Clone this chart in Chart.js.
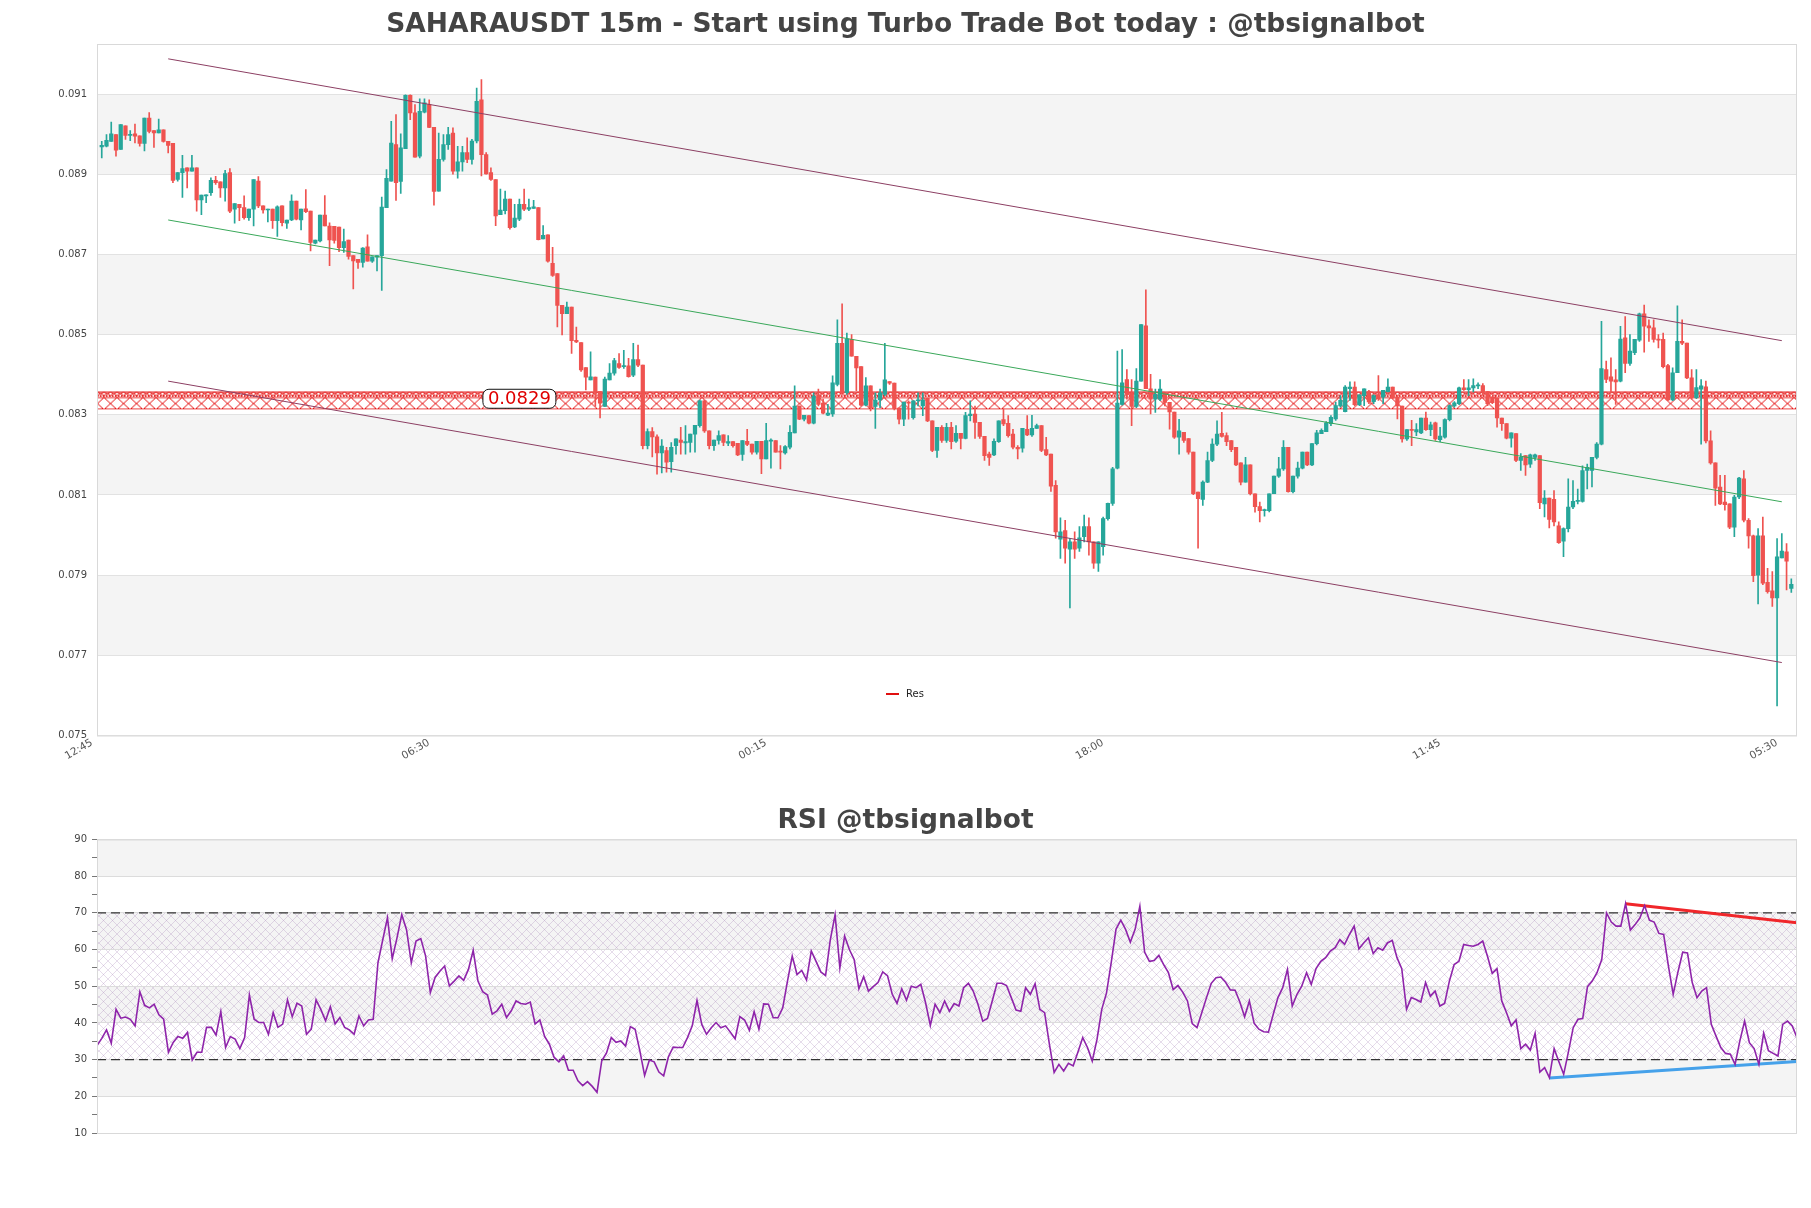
<!DOCTYPE html>
<html>
<head>
<meta charset="utf-8">
<script src="https://cdn.jsdelivr.net/npm/chart.js@4.4.1/dist/chart.umd.min.js"></script>
<style>
html, body { margin: 0; padding: 0; background: #fff; }
#wrap { position: relative; width: 1811px; height: 1208px; overflow: hidden; }
#main { position: absolute; left: 0; top: 0; }
#rsi { position: absolute; left: 0; top: 790px; }
</style>
</head>
<body>
<div id="wrap">
  <canvas id="main" width="1811" height="775"></canvas>
  <canvas id="rsi" width="1811" height="418"></canvas>
</div>
<script>
// x axis: one step per 15m candle, index 0 = 12:45
var tickLabels = ['12:45', '06:30', '00:15', '18:00', '11:45', '05:30'];
var tickIdx = [0, 71, 142, 213, 284, 355];
var priceTicks = [0.075, 0.077, 0.079, 0.081, 0.083, 0.085, 0.087, 0.089, 0.091];

var openP = [
0.08968,0.08970,0.08982,0.08999,0.08962,0.09021,0.08997,0.09001,0.08996,0.08977,
0.09040,0.09009,0.09003,0.09011,0.08982,0.08977,0.08887,0.08904,0.08916,0.08908,
0.08916,0.08836,0.08846,0.08854,0.08885,0.08881,0.08866,0.08904,0.08813,0.08825,
0.08817,0.08792,0.08813,0.08883,0.08821,0.08811,0.08813,0.08784,0.08821,0.08778,
0.08786,0.08833,0.08786,0.08814,0.08808,0.08728,0.08734,0.08798,0.08771,0.08770,
0.08768,0.08717,0.08736,0.08697,0.08688,0.08680,0.08719,0.08683,0.08693,0.08697,
0.08817,0.08883,0.08974,0.08882,0.08964,0.09097,0.09053,0.08945,0.09055,0.09074,
0.09017,0.08858,0.08937,0.08974,0.09003,0.08908,0.08931,0.08954,0.08937,0.08983,
0.09086,0.08949,0.08904,0.08887,0.08799,0.08809,0.08838,0.08769,0.08788,0.08825,
0.08813,0.08815,0.08817,0.08739,0.08749,0.08678,0.08652,0.08573,0.08552,0.08569,
0.08486,0.08480,0.08418,0.08387,0.08394,0.08358,0.08321,0.08387,0.08404,0.08428,
0.08420,0.08422,0.08399,0.08438,0.08424,0.08223,0.08258,0.08245,0.08205,0.08211,
0.08183,0.08223,0.08237,0.08230,0.08231,0.08252,0.08273,0.08335,0.08260,0.08223,
0.08236,0.08250,0.08229,0.08233,0.08229,0.08201,0.08234,0.08227,0.08207,0.08234,
0.08190,0.08234,0.08236,0.08208,0.08205,0.08219,0.08255,0.08322,0.08289,0.08298,
0.08279,0.08349,0.08329,0.08299,0.08302,0.08376,0.08478,0.08355,0.08488,0.08446,
0.08420,0.08324,0.08372,0.08321,0.08337,0.08351,0.08383,0.08379,0.08317,0.08289,
0.08332,0.08293,0.08335,0.08322,0.08341,0.08285,0.08211,0.08269,0.08236,0.08269,
0.08234,0.08254,0.08241,0.08298,0.08302,0.08281,0.08246,0.08202,0.08200,0.08233,
0.08288,0.08279,0.08252,0.08219,0.08217,0.08264,0.08250,0.08266,0.08273,0.08213,
0.08202,0.08124,0.07990,0.08011,0.07965,0.07983,0.07967,0.07996,0.08021,0.07983,
0.07930,0.07971,0.08041,0.08079,0.08167,0.08326,0.08388,0.08355,0.08321,0.08384,
0.08522,0.08365,0.08339,0.08339,0.08355,0.08331,0.08307,0.08244,0.08256,0.08241,
0.08207,0.08107,0.08089,0.08132,0.08186,0.08227,0.08254,0.08248,0.08236,0.08219,
0.08180,0.08132,0.08175,0.08103,0.08071,0.08061,0.08061,0.08103,0.08147,0.08165,
0.08219,0.08108,0.08147,0.08167,0.08207,0.08175,0.08228,0.08253,0.08258,0.08278,
0.08290,0.08322,0.08308,0.08365,0.08369,0.08325,0.08348,0.08358,0.08333,0.08350,
0.08344,0.08358,0.08369,0.08344,0.08322,0.08240,0.08263,0.08257,0.08255,0.08292,
0.08263,0.08280,0.08238,0.08244,0.08288,0.08322,0.08328,0.08367,0.08363,0.08367,
0.08372,0.08373,0.08358,0.08344,0.08342,0.08292,0.08278,0.08242,0.08253,0.08186,
0.08198,0.08177,0.08194,0.08198,0.08078,0.08092,0.08089,0.08023,0.07985,0.08016,
0.08070,0.08084,0.08084,0.08161,0.08161,0.08194,0.08227,0.08413,0.08395,0.08387,
0.08384,0.08492,0.08428,0.08455,0.08486,0.08552,0.08522,0.08517,0.08489,0.08488,
0.08423,0.08337,0.08405,0.08483,0.08479,0.08392,0.08343,0.08364,0.08370,0.08235,
0.08180,0.08120,0.08082,0.08078,0.08020,0.08095,0.08140,0.08037,0.07998,0.07900,
0.07998,0.07882,0.07861,0.07843,0.07943,0.07958,0.07867
];
var highP = [
0.08982,0.08999,0.09030,0.08999,0.09024,0.09021,0.09009,0.09025,0.08996,0.09040,
0.09054,0.09009,0.09038,0.09011,0.08982,0.08977,0.08904,0.08947,0.08916,0.08947,
0.08916,0.08848,0.08849,0.08891,0.08895,0.08881,0.08910,0.08914,0.08827,0.08825,
0.08846,0.08813,0.08887,0.08894,0.08821,0.08813,0.08813,0.08821,0.08821,0.08786,
0.08849,0.08833,0.08813,0.08862,0.08808,0.08736,0.08798,0.08847,0.08779,0.08770,
0.08768,0.08763,0.08736,0.08697,0.08688,0.08717,0.08749,0.08694,0.08697,0.08843,
0.08912,0.09032,0.09049,0.09001,0.09098,0.09098,0.09074,0.09088,0.09088,0.09086,
0.09017,0.09003,0.08999,0.09017,0.09016,0.08970,0.08970,0.08991,0.08987,0.09115,
0.09136,0.08954,0.08916,0.08887,0.08863,0.08858,0.08838,0.08825,0.08838,0.08863,
0.08838,0.08835,0.08817,0.08772,0.08749,0.08718,0.08652,0.08573,0.08581,0.08569,
0.08519,0.08480,0.08418,0.08457,0.08394,0.08358,0.08394,0.08428,0.08441,0.08453,
0.08461,0.08441,0.08478,0.08474,0.08424,0.08265,0.08268,0.08250,0.08238,0.08219,
0.08231,0.08240,0.08269,0.08273,0.08252,0.08274,0.08337,0.08337,0.08260,0.08237,
0.08260,0.08250,0.08248,0.08233,0.08229,0.08236,0.08264,0.08227,0.08234,0.08234,
0.08279,0.08240,0.08236,0.08223,0.08223,0.08273,0.08372,0.08322,0.08299,0.08298,
0.08355,0.08364,0.08339,0.08326,0.08397,0.08537,0.08577,0.08504,0.08500,0.08446,
0.08420,0.08393,0.08372,0.08355,0.08364,0.08478,0.08383,0.08379,0.08317,0.08332,
0.08335,0.08335,0.08355,0.08355,0.08341,0.08285,0.08269,0.08273,0.08279,0.08281,
0.08273,0.08254,0.08306,0.08335,0.08322,0.08281,0.08246,0.08207,0.08240,0.08285,
0.08314,0.08298,0.08264,0.08223,0.08266,0.08298,0.08299,0.08277,0.08273,0.08244,
0.08202,0.08136,0.08043,0.08037,0.07992,0.08008,0.08021,0.08050,0.08043,0.07983,
0.07983,0.08045,0.08080,0.08169,0.08459,0.08463,0.08413,0.08388,0.08415,0.08525,
0.08612,0.08401,0.08364,0.08388,0.08355,0.08331,0.08307,0.08289,0.08256,0.08241,
0.08207,0.08107,0.08135,0.08207,0.08240,0.08285,0.08306,0.08255,0.08236,0.08219,
0.08180,0.08194,0.08175,0.08103,0.08082,0.08065,0.08103,0.08147,0.08194,0.08236,
0.08219,0.08147,0.08182,0.08207,0.08207,0.08228,0.08261,0.08265,0.08283,0.08298,
0.08332,0.08348,0.08373,0.08382,0.08382,0.08350,0.08365,0.08361,0.08350,0.08398,
0.08361,0.08390,0.08369,0.08344,0.08322,0.08263,0.08286,0.08278,0.08292,0.08307,
0.08282,0.08282,0.08269,0.08290,0.08325,0.08333,0.08369,0.08388,0.08388,0.08390,
0.08380,0.08378,0.08358,0.08344,0.08342,0.08292,0.08278,0.08255,0.08253,0.08203,
0.08198,0.08202,0.08202,0.08198,0.08111,0.08092,0.08111,0.08033,0.08018,0.08140,
0.08136,0.08115,0.08173,0.08177,0.08194,0.08231,0.08533,0.08434,0.08442,0.08413,
0.08521,0.08545,0.08500,0.08488,0.08554,0.08574,0.08537,0.08537,0.08500,0.08504,
0.08426,0.08417,0.08572,0.08537,0.08479,0.08413,0.08413,0.08388,0.08384,0.08260,
0.08180,0.08149,0.08149,0.08078,0.08099,0.08144,0.08161,0.08041,0.08000,0.08016,
0.08045,0.07917,0.07909,0.07991,0.08004,0.07979,0.07891
];
var lowP = [
0.08941,0.08968,0.08982,0.08945,0.08962,0.08987,0.08984,0.08978,0.08970,0.08958,
0.09003,0.08967,0.09003,0.08980,0.08953,0.08879,0.08883,0.08842,0.08866,0.08908,
0.08808,0.08799,0.08829,0.08847,0.08875,0.08842,0.08833,0.08804,0.08778,0.08784,
0.08788,0.08785,0.08771,0.08817,0.08803,0.08781,0.08765,0.08745,0.08771,0.08765,
0.08784,0.08786,0.08761,0.08804,0.08709,0.08726,0.08731,0.08771,0.08672,0.08728,
0.08707,0.08705,0.08688,0.08614,0.08665,0.08668,0.08683,0.08680,0.08659,0.08610,
0.08817,0.08883,0.08835,0.08852,0.08964,0.09036,0.08943,0.08941,0.09053,0.09016,
0.08823,0.08858,0.08933,0.08962,0.08900,0.08890,0.08908,0.08929,0.08925,0.08978,
0.08896,0.08900,0.08885,0.08772,0.08799,0.08801,0.08763,0.08767,0.08784,0.08809,
0.08809,0.08815,0.08736,0.08739,0.08681,0.08645,0.08519,0.08499,0.08552,0.08453,
0.08480,0.08408,0.08362,0.08387,0.08321,0.08292,0.08321,0.08387,0.08399,0.08416,
0.08416,0.08394,0.08395,0.08420,0.08215,0.08215,0.08195,0.08152,0.08155,0.08157,
0.08157,0.08202,0.08202,0.08202,0.08207,0.08207,0.08269,0.08256,0.08215,0.08211,
0.08227,0.08223,0.08223,0.08219,0.08198,0.08186,0.08223,0.08202,0.08202,0.08153,
0.08190,0.08167,0.08207,0.08165,0.08202,0.08215,0.08255,0.08288,0.08285,0.08277,
0.08277,0.08322,0.08302,0.08298,0.08296,0.08372,0.08355,0.08351,0.08446,0.08360,
0.08322,0.08322,0.08310,0.08266,0.08318,0.08347,0.08376,0.08312,0.08277,0.08273,
0.08289,0.08289,0.08322,0.08298,0.08283,0.08208,0.08194,0.08231,0.08231,0.08215,
0.08231,0.08215,0.08240,0.08285,0.08241,0.08241,0.08186,0.08174,0.08198,0.08231,
0.08273,0.08244,0.08215,0.08190,0.08207,0.08248,0.08246,0.08266,0.08208,0.08198,
0.08109,0.07992,0.07942,0.07930,0.07818,0.07942,0.07959,0.07983,0.07950,0.07917,
0.07909,0.07950,0.08037,0.08074,0.08165,0.08324,0.08339,0.08273,0.08318,0.08384,
0.08365,0.08302,0.08306,0.08335,0.08322,0.08264,0.08241,0.08202,0.08231,0.08202,
0.08101,0.07967,0.08074,0.08131,0.08183,0.08223,0.08244,0.08223,0.08208,0.08173,
0.08125,0.08132,0.08100,0.08057,0.08033,0.08047,0.08058,0.08103,0.08144,0.08161,
0.08107,0.08105,0.08142,0.08165,0.08173,0.08173,0.08225,0.08253,0.08258,0.08273,
0.08286,0.08319,0.08307,0.08336,0.08323,0.08323,0.08323,0.08328,0.08328,0.08336,
0.08328,0.08357,0.08340,0.08290,0.08232,0.08236,0.08223,0.08248,0.08253,0.08261,
0.08248,0.08236,0.08233,0.08242,0.08285,0.08319,0.08325,0.08361,0.08348,0.08357,
0.08365,0.08350,0.08323,0.08328,0.08269,0.08261,0.08240,0.08219,0.08183,0.08161,
0.08149,0.08169,0.08186,0.08066,0.08045,0.08018,0.08023,0.07979,0.07946,0.08008,
0.08066,0.08078,0.08082,0.08115,0.08120,0.08190,0.08225,0.08380,0.08355,0.08326,
0.08382,0.08405,0.08423,0.08450,0.08483,0.08456,0.08483,0.08481,0.08467,0.08417,
0.08335,0.08335,0.08405,0.08475,0.08390,0.08339,0.08340,0.08227,0.08230,0.08177,
0.08074,0.08076,0.08062,0.08016,0.07996,0.08091,0.08033,0.07967,0.07884,0.07828,
0.07876,0.07855,0.07822,0.07574,0.07943,0.07863,0.07857
];
var closeP = [
0.08972,0.08985,0.09001,0.08960,0.09024,0.08997,0.08999,0.08995,0.08977,0.09040,
0.09007,0.09003,0.09011,0.08982,0.08972,0.08885,0.08904,0.08914,0.08908,0.08916,
0.08836,0.08848,0.08849,0.08885,0.08879,0.08866,0.08902,0.08808,0.08827,0.08817,
0.08792,0.08813,0.08887,0.08821,0.08811,0.08813,0.08784,0.08819,0.08779,0.08786,
0.08833,0.08788,0.08813,0.08807,0.08730,0.08736,0.08798,0.08771,0.08736,0.08735,
0.08717,0.08732,0.08695,0.08684,0.08680,0.08716,0.08683,0.08694,0.08697,0.08818,
0.08890,0.08978,0.08879,0.08966,0.09097,0.09053,0.08943,0.09057,0.09078,0.09017,
0.08857,0.08937,0.08974,0.08999,0.08908,0.08931,0.08954,0.08937,0.08983,0.09082,
0.08949,0.08901,0.08887,0.08796,0.08811,0.08838,0.08767,0.08791,0.08825,0.08813,
0.08817,0.08819,0.08737,0.08748,0.08683,0.08648,0.08573,0.08552,0.08569,0.08485,
0.08482,0.08412,0.08394,0.08395,0.08358,0.08329,0.08389,0.08404,0.08435,0.08418,
0.08422,0.08395,0.08438,0.08424,0.08223,0.08258,0.08245,0.08205,0.08222,0.08182,
0.08219,0.08240,0.08231,0.08233,0.08252,0.08274,0.08335,0.08260,0.08223,0.08237,
0.08248,0.08231,0.08233,0.08223,0.08200,0.08236,0.08226,0.08207,0.08234,0.08190,
0.08236,0.08237,0.08207,0.08207,0.08221,0.08256,0.08322,0.08289,0.08299,0.08279,
0.08347,0.08326,0.08304,0.08304,0.08380,0.08478,0.08355,0.08489,0.08446,0.08417,
0.08324,0.08372,0.08318,0.08337,0.08355,0.08387,0.08379,0.08316,0.08289,0.08332,
0.08329,0.08335,0.08337,0.08337,0.08285,0.08211,0.08269,0.08236,0.08269,0.08233,
0.08254,0.08241,0.08298,0.08302,0.08281,0.08246,0.08198,0.08194,0.08234,0.08285,
0.08277,0.08248,0.08219,0.08215,0.08266,0.08250,0.08266,0.08273,0.08211,0.08200,
0.08122,0.08008,0.08008,0.07967,0.07983,0.07965,0.07993,0.08021,0.07983,0.07930,
0.07983,0.08041,0.08079,0.08165,0.08329,0.08380,0.08351,0.08321,0.08384,0.08525,
0.08365,0.08339,0.08351,0.08364,0.08331,0.08307,0.08244,0.08260,0.08236,0.08207,
0.08103,0.08091,0.08132,0.08186,0.08227,0.08252,0.08246,0.08233,0.08213,0.08175,
0.08132,0.08175,0.08103,0.08071,0.08061,0.08062,0.08103,0.08147,0.08165,0.08219,
0.08108,0.08147,0.08167,0.08207,0.08175,0.08228,0.08255,0.08261,0.08280,0.08294,
0.08323,0.08336,0.08369,0.08369,0.08325,0.08350,0.08365,0.08332,0.08348,0.08340,
0.08361,0.08369,0.08342,0.08322,0.08240,0.08263,0.08261,0.08263,0.08292,0.08263,
0.08275,0.08240,0.08247,0.08288,0.08323,0.08330,0.08367,0.08363,0.08367,0.08373,
0.08375,0.08357,0.08328,0.08330,0.08292,0.08278,0.08242,0.08255,0.08186,0.08194,
0.08175,0.08200,0.08200,0.08081,0.08092,0.08039,0.08033,0.07981,0.08016,0.08070,
0.08084,0.08086,0.08161,0.08169,0.08194,0.08227,0.08415,0.08388,0.08384,0.08382,
0.08489,0.08428,0.08459,0.08488,0.08552,0.08521,0.08517,0.08488,0.08486,0.08420,
0.08337,0.08405,0.08483,0.08479,0.08392,0.08343,0.08368,0.08372,0.08235,0.08180,
0.08117,0.08078,0.08076,0.08020,0.08095,0.08142,0.08037,0.07998,0.07899,0.07998,
0.07880,0.07859,0.07843,0.07946,0.07960,0.07935,0.07877
];

// trend channel, [candle index, price]
var upperLine = [[15, 0.09188], [355, 0.08485]];
var midLine = [[15, 0.08786], [355, 0.08083]];
var lowerLine = [[15, 0.08384], [355, 0.07682]];
var resZone = [0.08312, 0.08358];
var resText = '0.0829';
var resTextAt = [89, 0.0834];

var rsiTicks = [10, 15, 20, 25, 30, 35, 40, 45, 50, 55, 60, 65, 70, 75, 80, 85, 90];
var rsiValues = [
33.8,35.8,38.1,34.5,43.7,41.3,41.6,41.0,39.2,48.5,
44.8,44.1,45.1,42.2,41.0,32.0,34.7,36.3,35.8,37.4,
29.9,32.0,32.0,38.8,38.8,36.7,43.1,33.3,36.3,35.6,
33.0,36.0,47.6,41.0,40.1,40.1,36.9,42.8,38.8,39.7,
46.3,41.7,45.4,44.6,36.9,38.3,46.3,43.7,40.6,44.4,
39.7,41.5,38.8,38.1,36.9,41.9,39.2,40.8,41.0,56.4,
62.6,68.7,57.5,63.2,69.5,65.4,56.4,62.3,63.0,58.3,
48.3,52.4,54.1,55.5,50.1,51.4,52.8,51.6,54.6,59.8,
51.4,48.5,47.6,42.4,43.3,45.1,41.5,43.3,46.0,45.3,
45.1,45.7,39.7,40.8,36.3,34.2,30.6,29.4,31.0,27.1,
27.1,24.2,22.9,24.0,22.7,21.1,29.7,31.8,36.0,34.7,35.1,
33.7,39.0,38.3,32.4,25.7,29.9,29.4,26.6,25.6,30.8,
33.4,33.3,33.3,36.0,39.2,46.1,39.6,36.9,38.7,40.1,
38.7,39.2,37.5,35.7,41.7,40.8,38.0,43.1,38.3,45.2,
45.1,41.4,41.4,44.1,51.4,58.2,53.2,54.3,51.7,59.6,
56.8,53.9,52.9,62.7,69.5,55.0,63.7,60.0,57.3,49.3,
52.6,48.7,49.9,51.0,53.9,52.9,47.8,45.3,49.3,46.2,
50.0,49.6,50.5,45.5,39.3,45.1,42.8,46.0,43.2,45.3,
44.6,49.6,50.8,48.7,45.1,40.5,41.2,46.0,50.8,50.8,
50.2,46.9,43.5,43.2,49.6,47.8,50.7,43.7,42.8,34.2,
26.5,28.7,26.9,29.0,28.3,32.1,36.0,33.3,29.6,35.5,
43.7,48.2,56.6,65.6,68.0,65.5,62.0,65.5,71.8,59.3,
56.8,57.0,58.4,55.9,53.7,49.1,50.2,48.4,46.0,39.8,
38.7,42.8,46.9,50.8,52.3,52.5,
51.1,49.0,48.9,45.7,41.7,46.0,39.9,38.3,37.6,37.5,
42.3,46.9,49.6,54.6,44.6,47.8,50.0,53.7,50.5,54.8,
56.8,57.8,59.6,60.5,62.7,61.4,64.1,66.4,60.2,61.8,
63.2,58.9,60.5,59.8,61.8,62.5,57.8,54.8,43.7,46.9,
46.4,45.7,51.0,47.3,48.7,44.6,45.3,51.4,55.9,56.8,
61.4,61.1,60.9,61.4,62.3,58.2,53.5,54.8,46.0,42.8,
39.2,40.8,33.0,34.2,32.6,37.2,26.6,27.8,25.1,33.0,
29.4,26.0,32.1,38.7,41.0,41.2,49.9,51.4,53.7,57.3,
70.0,67.5,66.4,66.4,72.5,65.3,66.8,68.6,72.0,68.0,
67.5,64.4,64.1,55.5,47.8,53.9,59.3,59.1,51.0,46.9,
48.7,49.6,39.6,36.4,33.3,31.7,31.5,28.7,35.1,40.5,
34.6,33.0,28.7,37.2,32.4,31.7,31.0,39.6,40.5,39.2,36.0
];
var rsiBear = [[321, 72.5], [357, 67.3]];
var rsiBull = [[305, 25.0], [357, 29.5]];

var UP = '#26a69a', DOWN = '#ef5350';
Chart.defaults.font.family = "'DejaVu Sans', sans-serif";
Chart.defaults.color = '#444';

function pts(a) {
  return a.map(function(p) { return {x: p[0], y: p[1]}; });
}

var bodies = [], wicks = [], colors = [];
for (var i = 0; i < openP.length; i++) {
  bodies.push({x: i + 1, y: [openP[i], closeP[i]]});
  wicks.push({x: i + 1, y: [lowP[i], highP[i]]});
  colors.push(closeP[i] >= openP[i] ? UP : DOWN);
}

// empty right axis: keeps the plot 14px from the edge while the title stays centred on the page
var rightGap = {
  position: 'right',
  grid: {display: false, drawTicks: false},
  border: {display: false},
  ticks: {display: false},
  afterFit: function(s) { s.width = 14; }
};

// alternating grey bands behind the grid
var bandsPlugin = {
  id: 'bands',
  beforeDraw: function(chart, args, opts) {
    var ctx = chart.ctx, a = chart.chartArea, y = chart.scales.y;
    ctx.save();
    ctx.fillStyle = '#f4f4f4';
    opts.list.forEach(function(b) {
      var t = y.getPixelForValue(b[1]), btm = y.getPixelForValue(b[0]);
      ctx.fillRect(a.left, t, a.right - a.left, btm - t);
    });
    if (opts.hatch) {
      var c = document.createElement('canvas');
      c.width = 9; c.height = 9;
      var g = c.getContext('2d');
      g.strokeStyle = 'rgba(150,110,170,0.3)';
      g.lineWidth = 0.8;
      g.beginPath();
      g.moveTo(0, 0); g.lineTo(9, 9);
      g.moveTo(9, 0); g.lineTo(0, 9);
      g.stroke();
      ctx.fillStyle = ctx.createPattern(c, 'repeat');
      var t2 = y.getPixelForValue(opts.hatch[1]), b2 = y.getPixelForValue(opts.hatch[0]);
      ctx.fillRect(a.left, t2, a.right - a.left, b2 - t2);
    }
    ctx.restore();
  },
  afterDraw: function(chart) {
    var ctx = chart.ctx, a = chart.chartArea;
    ctx.save();
    ctx.strokeStyle = '#d9d9d9';
    ctx.lineWidth = 1;
    ctx.strokeRect(a.left + 0.5, a.top + 0.5, a.right - a.left - 1, a.bottom - a.top);
    ctx.restore();
  }
};

var resPlugin = {
  id: 'res',
  beforeDatasetsDraw: function(chart) {
    var ctx = chart.ctx, a = chart.chartArea, y = chart.scales.y;
    var top = y.getPixelForValue(resZone[1]), bot = y.getPixelForValue(resZone[0]);
    var h = bot - top, w = 13;
    var c = document.createElement('canvas');
    c.width = w; c.height = Math.max(4, Math.round(h));
    var g = c.getContext('2d');
    g.strokeStyle = 'rgb(228,10,10)';
    g.lineWidth = 1;
    g.beginPath();
    g.moveTo(0, 6); g.lineTo(w, c.height);
    g.moveTo(w, 6); g.lineTo(0, c.height);
    g.moveTo(0, 6); g.lineTo(w, 6);
    g.moveTo(0, c.height - 0.5); g.lineTo(w, c.height - 0.5);
    g.stroke();
    g.beginPath();
    g.moveTo(0, 0.5); g.lineTo(w / 2, 4); g.lineTo(w, 0.5);
    g.moveTo(0, 4); g.lineTo(w / 2, 0.5); g.lineTo(w, 4);
    g.stroke();
    ctx.save();
    ctx.translate(0, top);
    ctx.fillStyle = ctx.createPattern(c, 'repeat-x');
    ctx.fillRect(a.left, 0, a.right - a.left, c.height);
    ctx.restore();
    ctx.save();
    ctx.strokeStyle = '#e01010';
    ctx.lineWidth = 1;
    ctx.beginPath();
    ctx.moveTo(a.left, top + 0.5); ctx.lineTo(a.right, top + 0.5);
    ctx.stroke();
    ctx.setLineDash([1.5, 1.5]);
    ctx.lineWidth = 1.5;
    ctx.beginPath();
    ctx.moveTo(a.left, top + 4.5); ctx.lineTo(a.right, top + 4.5);
    ctx.stroke();
    ctx.restore();
  },
  afterDatasetsDraw: function(chart) {
    var ctx = chart.ctx, a = chart.chartArea;
    var cx = chart.scales.x.getPixelForValue(resTextAt[0]);
    var cy = chart.scales.y.getPixelForValue(resTextAt[1]);
    ctx.save();
    ctx.font = "18px 'DejaVu Sans'";
    var tw = ctx.measureText(resText).width;
    var bw = tw + 10, bh = 19;
    ctx.beginPath();
    ctx.roundRect(cx - bw / 2, cy - bh / 2, bw, bh, 6);
    ctx.fillStyle = '#fff';
    ctx.fill();
    ctx.strokeStyle = '#111';
    ctx.lineWidth = 1;
    ctx.stroke();
    ctx.fillStyle = '#e00000';
    ctx.textAlign = 'center';
    ctx.textBaseline = 'middle';
    ctx.fillText(resText, cx, cy + 1);
    // legend entry inside the plot
    var ly = a.bottom - 41.5;
    ctx.strokeStyle = '#e01010';
    ctx.lineWidth = 2;
    ctx.beginPath();
    ctx.moveTo(886, ly); ctx.lineTo(899, ly);
    ctx.stroke();
    ctx.font = "10px 'DejaVu Sans'";
    ctx.fillStyle = '#222';
    ctx.textAlign = 'left';
    ctx.fillText('Res', 906, ly);
    ctx.restore();
  }
};

var mainChart = new Chart(document.getElementById('main'), {
  type: 'bar',
  data: {
    datasets: [
      {type: 'line', data: pts(upperLine), borderColor: '#8c3f63', borderWidth: 1, pointRadius: 0, order: 0},
      {type: 'line', data: pts(midLine), borderColor: '#3aa85a', borderWidth: 1, pointRadius: 0, order: 0},
      {type: 'line', data: pts(lowerLine), borderColor: '#8c3f63', borderWidth: 1, pointRadius: 0, order: 0},
      {data: bodies, backgroundColor: colors, barThickness: 3.6, minBarLength: 1, grouped: false, order: 1},
      {data: wicks, backgroundColor: colors, barThickness: 1, grouped: false, order: 2}
    ]
  },
  options: {
    responsive: false,
    animation: false,
    layout: {padding: 0},
    plugins: {
      legend: {display: false},
      tooltip: {enabled: false},
      title: {
        display: true,
        text: 'SAHARAUSDT 15m - Start using Turbo Trade Bot today : @tbsignalbot',
        color: '#444',
        font: {size: 26.5, weight: 'bold'},
        padding: {top: 9.4, bottom: 2.8}
      },
      bands: {list: [[0.077, 0.079], [0.081, 0.083], [0.085, 0.087], [0.089, 0.091]]}
    },
    scales: {
      x: {
        type: 'linear',
        min: 0,
        max: 358.2,
        offset: false,
        grid: {display: false, drawTicks: false},
        border: {display: false},
        afterBuildTicks: function(s) { s.ticks = tickIdx.map(function(v) { return {value: v}; }); },
        afterFit: function(s) { s.height = 39.5; },
        ticks: {
          autoSkip: false,
          minRotation: 30,
          maxRotation: 30,
          padding: 1,
          labelOffset: -5,
          font: {size: 10.5},
          color: '#555',
          callback: function(v, idx) { return tickLabels[idx]; }
        }
      },
      y: {
        min: 0.075,
        max: 0.09225,
        border: {display: false},
        grid: {color: '#e2e2e2', drawTicks: false},
        afterBuildTicks: function(s) { s.ticks = priceTicks.map(function(v) { return {value: v}; }); },
        afterFit: function(s) { s.width = 97; },
        ticks: {
          padding: 10,
          font: {size: 10},
          color: '#444',
          callback: function(v) { return v.toFixed(3); }
        }
      },
      gap: rightGap
    }
  },
  plugins: [bandsPlugin, resPlugin]
});

var rsiLevels = {
  id: 'levels',
  beforeDatasetsDraw: function(chart) {
    var ctx = chart.ctx, a = chart.chartArea, y = chart.scales.y;
    ctx.save();
    ctx.strokeStyle = '#333';
    ctx.lineWidth = 1.2;
    ctx.setLineDash([9, 5]);
    [30, 70].forEach(function(v) {
      var py = y.getPixelForValue(v);
      ctx.beginPath();
      ctx.moveTo(a.left, py); ctx.lineTo(a.right, py);
      ctx.stroke();
    });
    ctx.restore();
  }
};

var rsiPts = rsiValues.map(function(v, i) { return {x: i, y: v}; });

var rsiChart = new Chart(document.getElementById('rsi'), {
  type: 'line',
  data: {
    datasets: [
      {data: rsiPts, borderColor: '#8e24aa', borderWidth: 1.6, pointRadius: 0, tension: 0},
      {data: pts(rsiBear), borderColor: '#f0262a', borderWidth: 3, pointRadius: 0},
      {data: pts(rsiBull), borderColor: '#45a1ea', borderWidth: 3, pointRadius: 0}
    ]
  },
  options: {
    responsive: false,
    animation: false,
    layout: {padding: {top: 0, right: 0, bottom: 75, left: 0}},
    plugins: {
      legend: {display: false},
      tooltip: {enabled: false},
      title: {
        display: true,
        text: 'RSI @tbsignalbot',
        color: '#444',
        font: {size: 26.5, weight: 'bold'},
        padding: {top: 15.1, bottom: 2.6}
      },
      bands: {list: [[20, 30], [40, 50], [60, 70], [80, 90]], hatch: [30, 70]}
    },
    scales: {
      x: {type: 'linear', min: 0, max: rsiValues.length - 1, display: false},
      y: {
        min: 10,
        max: 90,
        border: {display: false},
        afterBuildTicks: function(s) { s.ticks = rsiTicks.map(function(v) { return {value: v}; }); },
        afterFit: function(s) { s.width = 97; },
        grid: {
          color: function(c) { return c.tick && c.tick.value % 10 === 0 ? '#dcdcdc' : 'rgba(0,0,0,0)'; },
          tickColor: '#777',
          tickLength: 5
        },
        ticks: {
          padding: 5,
          font: {size: 10},
          color: '#444',
          callback: function(v) { return v % 10 === 0 ? v : ''; }
        }
      },
      gap: rightGap
    }
  },
  plugins: [bandsPlugin, rsiLevels]
});
</script>
</body>
</html>
